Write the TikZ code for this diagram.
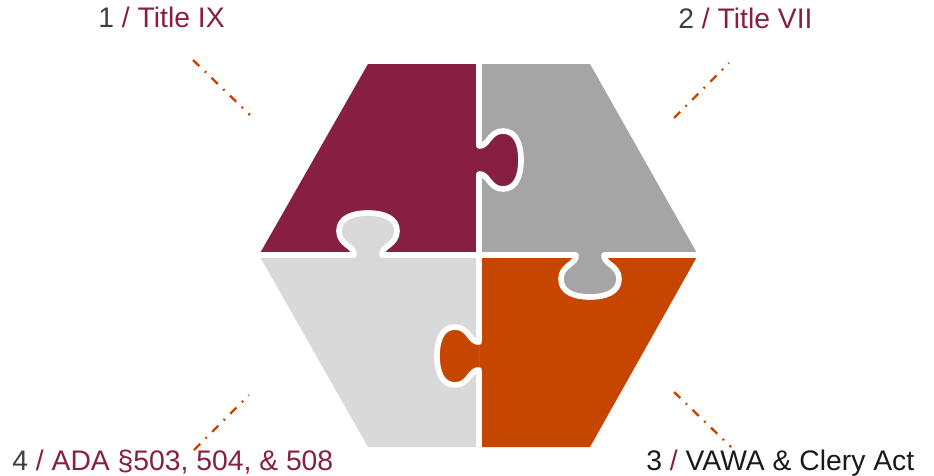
\documentclass[tikz,border=0pt]{standalone}
\usepackage{fontspec}
\setmainfont{Liberation Sans}
\usepackage{xcolor}
\definecolor{vtmaroon}{HTML}{861F41}
\definecolor{vtorange}{HTML}{C64600}
\definecolor{vtgray}{HTML}{A5A5A5}
\definecolor{vtgraylight}{HTML}{D9D9D9}
\definecolor{numgray}{HTML}{404040}
\definecolor{numdark}{HTML}{1A1A1A}
\usepackage{tikz}
\usetikzlibrary{positioning}

\begin{document}
\begin{tikzpicture}[
      x=0.2mm, y=0.2mm,
      lab/.style={anchor=base west, inner sep=0pt, font=\fontsize{16.1}{19}\selectfont, text=vtmaroon},
      lead/.style={vtorange, line width=1.35pt, dash pattern=on 5pt off 4.3pt on 1pt off 4.3pt},
      cut/.style={white, line width=3.2pt, line join=round},
      knobpath/.style={insert path={-- (-14,0) .. controls (-13,9) and (-29,10) .. (-29,24)
          .. controls (-29,37) and (-16,42) .. (0,42) .. controls (16,42) and (29,37) .. (29,24)
          .. controls (29,10) and (13,9) .. (14,0)}},
    ]
    \useasboundingbox (0,0) rectangle (934,475);

    \coordinate (tl) at (368,411);
    \coordinate (tc) at (479,411);
    \coordinate (tr) at (590,411);
    \coordinate (r)  at (698,220);
    \coordinate (br) at (590,28);
    \coordinate (bc) at (479,28);
    \coordinate (bl) at (368,28);
    \coordinate (l)  at (259,220);
    \coordinate (c)  at (479,220);

    \fill[vtmaroon] (tl) -- (tc) -- (c) -- (l) -- cycle;
    \fill[vtgray] (tc) -- (tr) -- (r) -- (c) -- cycle;
    \fill[vtorange] (c) -- (r) -- (br) -- (bc) -- cycle;
    \fill[vtgraylight] (l) -- (c) -- (bc) -- (bl) -- cycle;

    \fill[vtgraylight, shift={(368,220)}] (0,0) [knobpath] -- cycle;
    \fill[vtgray, shift={(590,220)}, yscale=-1] (0,0) [knobpath] -- cycle;
    \fill[vtmaroon, shift={(479,315)}, rotate=-90] (0,0) [knobpath] -- cycle;
    \fill[vtorange, shift={(479,119)}, rotate=-90, yscale=-1] (0,0) [knobpath] -- cycle;

    \draw[cut] (l) -- (354,220) {[shift={(368,220)}, knobpath]} -- (576,220)
      {[shift={(590,220)}, yscale=-1, knobpath]} -- (r);
    \draw[cut] (tc) -- (479,329) {[shift={(479,315)}, rotate=-90, knobpath]} -- (479,133)
      {[shift={(479,119)}, rotate=-90, yscale=-1, knobpath]} -- (bc);

    \node[lab] (t1) at (98,448) {\textcolor{numgray}{1} / Title IX};
    \node[lab] (t2) at (678,446) {\textcolor{numgray}{2} / Title VII};
    \node[lab] (t3) at (646,5) {\textcolor{numdark}{3} / \textcolor{numdark}{VAWA \& Clery Act}};
    \node[lab] (t4) at (12,5) {\textcolor{numgray}{4} / ADA §503, 504, \& 508};

    \coordinate (a1) at (193,415);
    \coordinate (b1) at (250,360);
    \coordinate (a2) at (674,357);
    \coordinate (b2) at (729,412);
    \coordinate (a3) at (674,83);
    \coordinate (b3) at (731,28);
    \coordinate (a4) at (194,25);
    \coordinate (b4) at (249,80);

    \draw[lead] (a1) -- (b1);
    \draw[lead] (a2) -- (b2);
    \draw[lead] (a3) -- (b3);
    \draw[lead] (a4) -- (b4);
  \end{tikzpicture}
\end{document}
